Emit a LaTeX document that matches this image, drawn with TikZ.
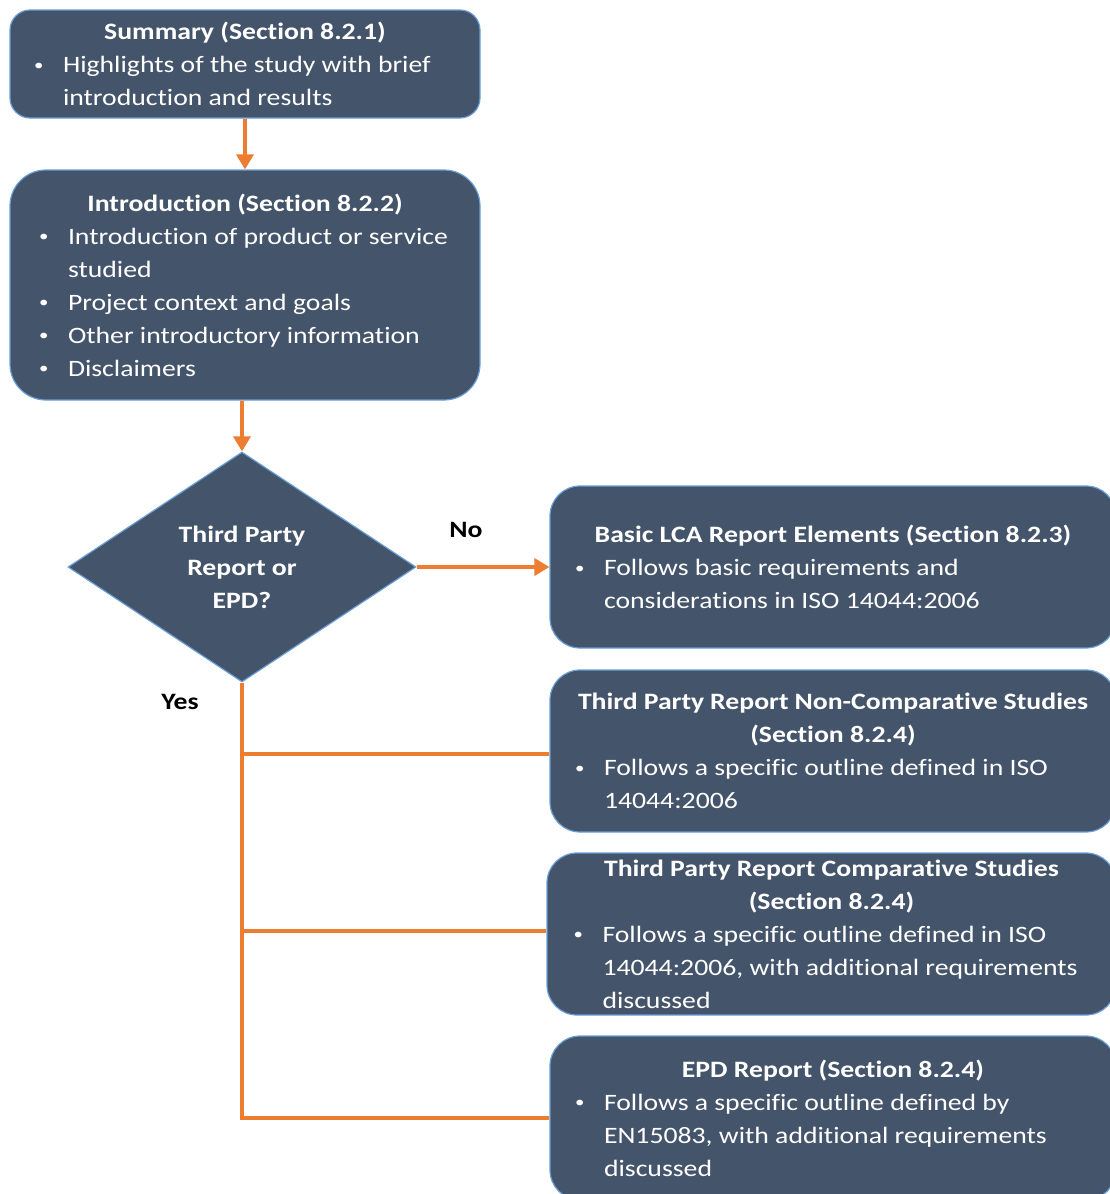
\documentclass[tikz,border=0pt]{standalone}
\usepackage{fontspec}
\setmainfont{Carlito}[FakeStretch=1.18,Ligatures=NoCommon]
\usetikzlibrary{arrows.meta,shapes.geometric}

\definecolor{slate}{HTML}{44546A}
\definecolor{edgeblue}{HTML}{6A9FD8}
\definecolor{flowor}{HTML}{ED7D31}

\newcommand\smallbul{\hspace{-3pt}\raisebox{2.5pt}{\fontsize{16}{16}\selectfont\textbullet}}
\newcommand\bitem[1]{\par\hangindent=26pt\hangafter=1\noindent\makebox[26pt][l]{\smallbul}#1\par}
\newcommand\btitle[1]{{\centering\bfseries #1\par}}
\newcommand\boxtext[2]{\parbox{#1}{\raggedright #2}}

\begin{document}
\begin{tikzpicture}[x=1pt,y=-1pt,
  every node/.style={font=\fontsize{23.5}{33}\selectfont},
  box/.style={rectangle,rounded corners=#1,draw=edgeblue,line width=1.2pt,fill=slate,
    text=white,inner sep=0pt},
  dia/.style={diamond,draw=edgeblue,line width=1.2pt,fill=slate,text=white,
    align=center,inner sep=0pt,minimum width=348pt,minimum height=230pt},
  flow/.style={draw=flowor,line width=3.5pt},
  arr/.style={flow,-{Triangle[length=15pt,width=17pt]}},
  lbl/.style={font=\fontsize{23.5}{33}\selectfont\bfseries}]
  \useasboundingbox (0,0) rectangle (1110,1194);
  \node[box=20pt,minimum width=470pt,minimum height=108pt] (summ) at (245,64)
    {\boxtext{416pt}{\btitle{Summary (Section 8.2.1)}
     \bitem{Highlights of the study with brief\newline introduction and results}}};
  \node[box=36pt,minimum width=470pt,minimum height=230pt] (intro) at (245,285)
    {\boxtext{406pt}{\btitle{Introduction (Section 8.2.2)}
     \bitem{Introduction of product or service\newline studied}
     \bitem{Project context and goals}
     \bitem{Other introductory information}
     \bitem{Disclaimers}}};
  \node[dia] (third) at (242,567)
    {\bfseries Third Party\\\bfseries Report or\\\bfseries EPD?};
  \node[box=30pt,minimum width=566pt,minimum height=162pt] (basic) at (833,567)
    {\boxtext{510pt}{\btitle{Basic LCA Report Elements (Section 8.2.3)}
     \bitem{Follows basic requirements and\newline considerations in ISO 14044:2006}}};
  \node[box=30pt,minimum width=566pt,minimum height=162pt] (noncomp) at (833,751)
    {\boxtext{510pt}{\btitle{Third Party Report Non-Comparative Studies\\(Section 8.2.4)}
     \bitem{Follows a specific outline defined in ISO\newline 14044:2006}}};
  \node[box=30pt,minimum width=569pt,minimum height=162pt] (comp) at (831.5,934)
    {\boxtext{510pt}{\btitle{Third Party Report Comparative Studies\\(Section 8.2.4)}
     \bitem{Follows a specific outline defined in ISO\newline 14044:2006, with additional requirements\newline discussed}}};
  \node[box=30pt,minimum width=566pt,minimum height=164pt] (epd) at (833,1118)
    {\boxtext{510pt}{\btitle{EPD Report (Section 8.2.4)}
     \bitem{Follows a specific outline defined by\newline EN15083, with additional requirements\newline discussed}}};
  \node[lbl] (no) at (466,530) {No};
  \node[lbl] (yes) at (180,702) {Yes};
  \draw[arr] (summ.south) -- (intro.north);
  \draw[arr] (intro.south -| third.north) -- (third.north);
  \draw[arr] (third.east) -- (basic.west);
  \draw[flow] (third.south) |- ([yshift=-3pt]noncomp.west);
  \draw[flow] (third.south) |- ([yshift=3pt]comp.west);
  \draw[flow] (third.south) |- (epd.west);
\end{tikzpicture}
\end{document}
